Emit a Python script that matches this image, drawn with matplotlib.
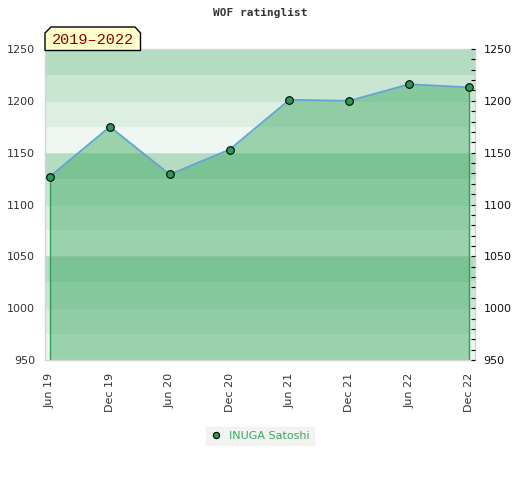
import matplotlib
matplotlib.use("Agg")
import matplotlib.pyplot as plt
from matplotlib.patches import Polygon
from matplotlib.lines import Line2D
import numpy as np

# data
periods = ["Jun 19", "Dec 19", "Jun 20", "Dec 20", "Jun 21", "Dec 21", "Jun 22", "Dec 22"]
ratings = [1127, 1175, 1129, 1153, 1201, 1200, 1216, 1213]
player = "INUGA Satoshi"
title = "WOF ratinglist"
period_label = "2019\u20132022"
y_ticks = [950, 1000, 1050, 1100, 1150, 1200, 1250]

W, H = 520, 480
band_colors = ["#eef7f1", "#ddeee2", "#c9e6d3", "#b3dcc1"]
fill_color = (61 / 255, 169 / 255, 96 / 255)


def px(x, y):
    # pixel (from top-left) -> figure fraction
    return x / W, 1 - y / H


fig = plt.figure(figsize=(W / 100, H / 100), dpi=100)
ax = fig.add_axes([45 / W, 120 / H, 430 / W, 311 / H])

x = np.arange(len(ratings))
ax.set_xlim(-0.0835, 7.1)
ax.set_ylim(950, 1250)

# horizontal bands every 25 points
for i, lo in enumerate(range(950, 1250, 25)):
    ax.axhspan(lo, lo + 25, color=band_colors[i % 4], lw=0, zorder=0)
for yv in range(1000, 1250, 50):
    ax.axhline(yv, color="#d6dcd8", lw=0.6, zorder=0.5)

ax.fill_between(x, ratings, 950, color=fill_color, alpha=0.475, lw=0, zorder=1)
ax.vlines([x[0], x[-1]], 950, [ratings[0], ratings[-1]], color="#2ea04f", lw=1, zorder=2)
ax.plot(x, ratings, color="#62a3d6", lw=1.3, zorder=3)
ax.plot(x, ratings, "o", ms=5.5, mfc="#2a9a55", mec="black", mew=0.8, zorder=4)

ax.set_xticks(x)
ax.set_xticklabels(periods, rotation=90, fontsize=8, color="#333333")
ax.set_yticks(y_ticks)
ax.tick_params(axis="y", labelsize=8, labelcolor="#333333", length=0, pad=7)
ax.tick_params(axis="x", length=0, pad=9)
for s in ax.spines.values():
    s.set_color("#d4d4d4")
    s.set_linewidth(1)

ax2 = ax.twinx()
ax2.set_ylim(950, 1250)
ax2.set_yticks(y_ticks)
ax2.set_yticks(np.arange(950, 1251, 10), minor=True)
ax2.tick_params(axis="y", which="both", direction="in", length=3, width=0.8,
                color="black", labelsize=8, labelcolor="#111111", pad=6)
for s in ax2.spines.values():
    s.set_visible(False)

# title
fig.text(*px(260, 13), title, ha="center", va="center", fontsize=8,
         family="DejaVu Sans Mono", weight="bold", color="#333333")

# period tag with chamfered top corners
pts = [px(45, 50.5), px(45, 33), px(51, 27), px(135, 27), px(140.5, 33), px(140.5, 50.5)]
fig.patches.append(Polygon(pts, closed=True, transform=fig.transFigure,
                           facecolor="#ffffcc", edgecolor="black", lw=1, zorder=5))
fig.text(*px(93, 40), period_label, ha="center", va="center", fontsize=11,
         family="Liberation Mono", color="#8b0000", zorder=6)

# legend
handle = Line2D([], [], ls="none", marker="o", ms=4.5, mfc="#2a9a55", mec="black", mew=0.8)
leg = fig.legend([handle], [player], loc="center", bbox_to_anchor=px(260, 436),
                 frameon=True, fontsize=8, handlelength=1, handletextpad=0.7,
                 borderpad=0.4, fancybox=False)
leg.get_frame().set_facecolor("#f0f0f0")
leg.get_frame().set_edgecolor("#f0f0f0")
for t in leg.get_texts():
    t.set_color("#3aaa5a")

fig.savefig("out.png", dpi=100)
